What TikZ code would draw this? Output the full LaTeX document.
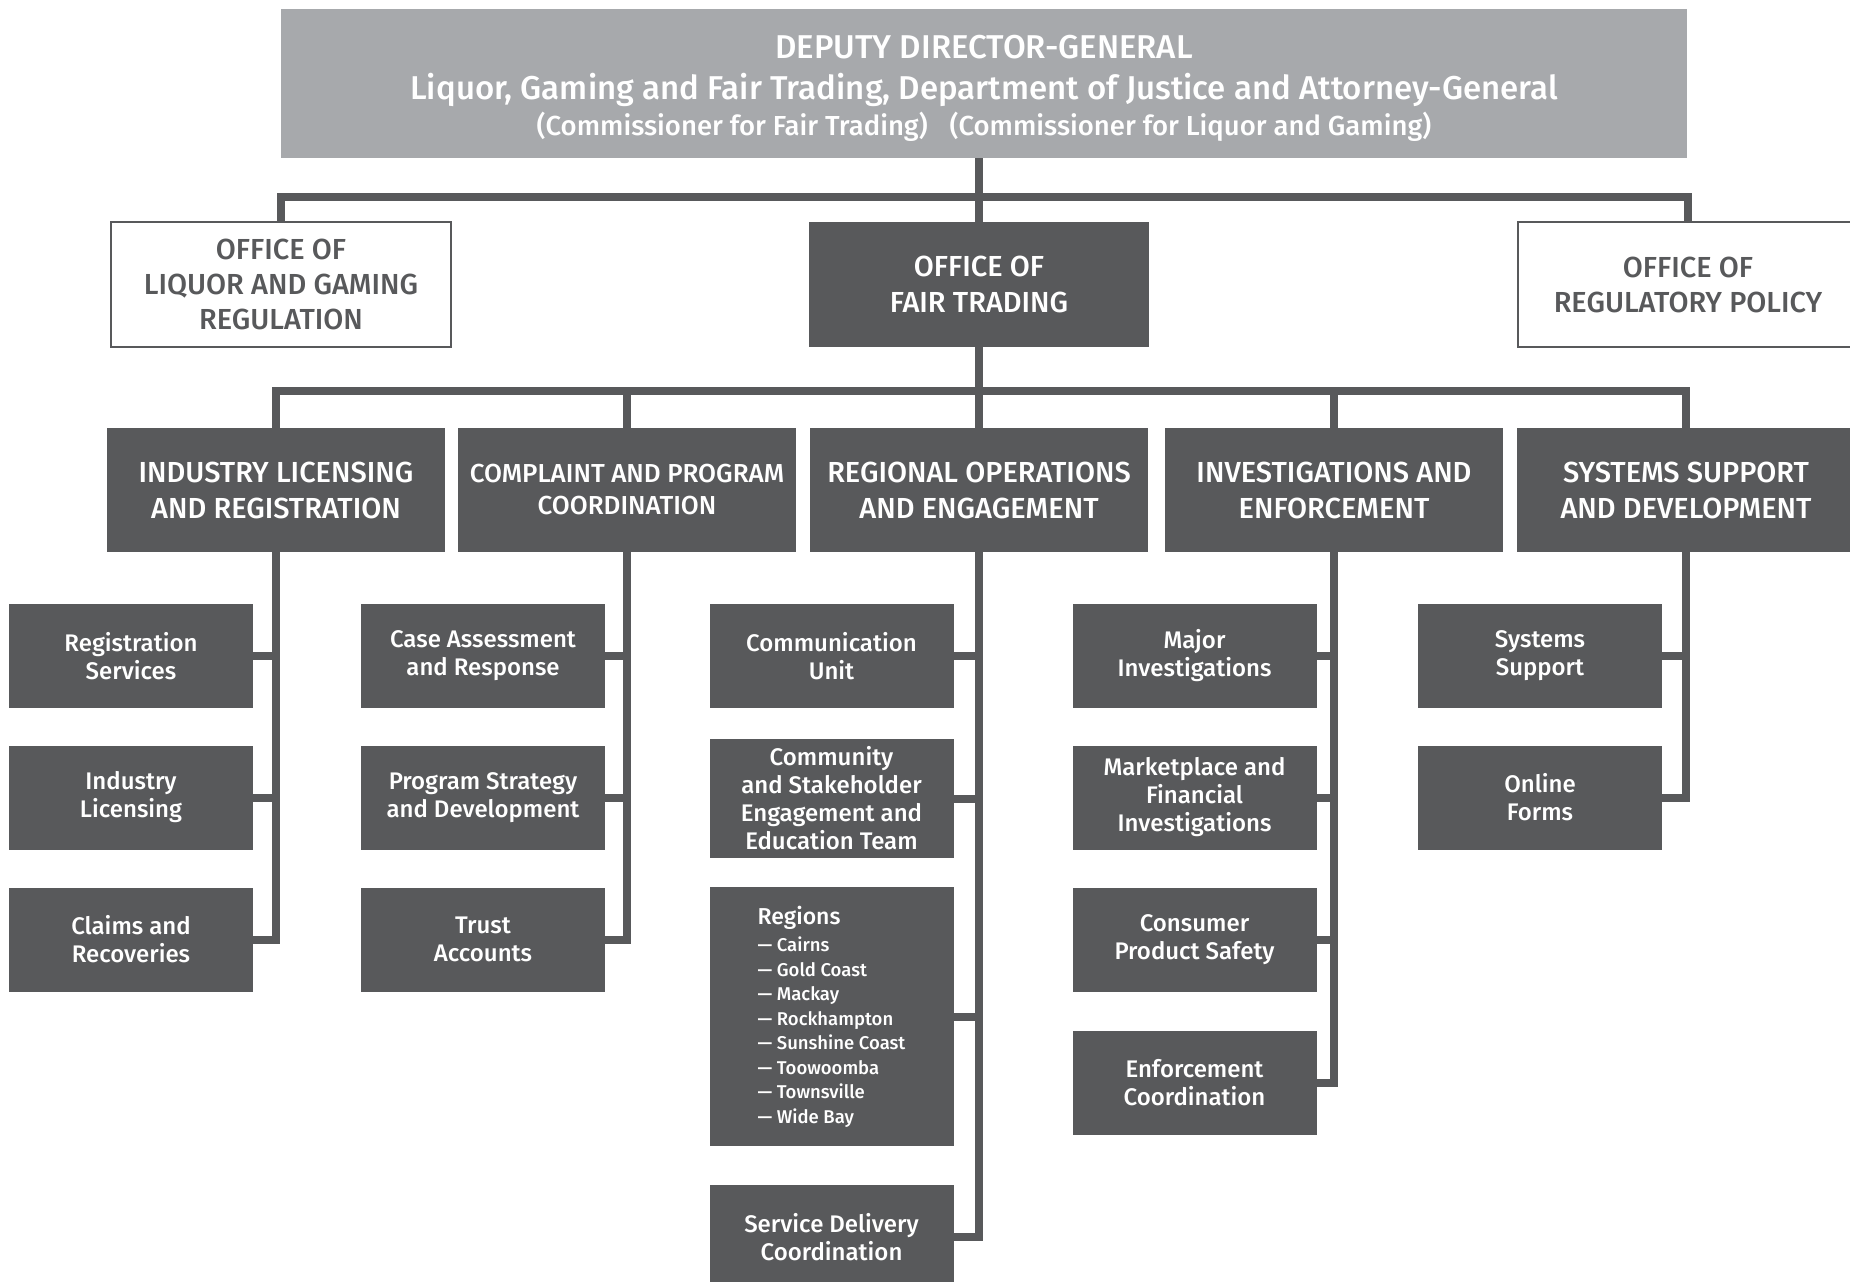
\documentclass[tikz,border=0pt]{standalone}
\usepackage{fontspec}
\setmainfont{Fira Sans Medium}
\definecolor{grisfonce}{HTML}{58595B}
\definecolor{grisclair}{HTML}{A7A9AC}
\tikzset{
  lien/.style={draw=grisfonce, line width=8pt},
  boite/.style={fill=grisfonce, text=white, align=center, inner sep=0pt},
  titre/.style={boite, minimum width=338pt, minimum height=124pt, font=\fontsize{29}{36}\selectfont},
  bureau/.style={draw=grisfonce, line width=2pt, text=grisfonce, align=center, inner sep=0pt,
    minimum width=340pt, minimum height=125pt, font=\fontsize{29}{35}\selectfont},
  unite/.style={boite, minimum width=244pt, minimum height=104pt, font=\fontsize{24}{28}\selectfont},
}
\begin{document}
\begin{tikzpicture}[x=1pt,y=-1pt]
\useasboundingbox (0,0) rectangle (1850,1282);

% Direction
\node[boite, fill=grisclair, minimum width=1406pt, minimum height=149pt, font=\fontsize{33}{41}\selectfont] (ddg) at (984,83.5)
  {\rule{0pt}{33pt}DEPUTY DIRECTOR-GENERAL\\Liquor, Gaming and Fair Trading, Department of Justice and Attorney-General\\[-5pt]
   \fontsize{27.5}{30}\selectfont (Commissioner for Fair Trading)\hspace{22pt}(Commissioner for Liquor and Gaming)};

% Bureaux
\node[bureau] (olgr) at (281,284.5) {OFFICE OF\\LIQUOR AND GAMING\\REGULATION};
\node[titre, minimum width=340pt, minimum height=125pt] (oft) at (979,284.5) {OFFICE OF\\FAIR TRADING};
\node[bureau] (orp) at (1688,284.5) {OFFICE OF\\REGULATORY POLICY};

% Directions du Fair Trading
\node[titre] (ilr) at (276,490) {INDUSTRY LICENSING\\AND REGISTRATION};
\node[titre, font=\fontsize{26}{32}\selectfont] (cpc) at (627,490) {COMPLAINT AND PROGRAM\\COORDINATION};
\node[titre] (roe) at (979,490) {REGIONAL OPERATIONS\\AND ENGAGEMENT};
\node[titre] (iae) at (1334,490) {INVESTIGATIONS AND\\ENFORCEMENT};
\node[titre] (ssd) at (1686,490) {SYSTEMS SUPPORT\\AND DEVELOPMENT};

% Unites (colonne 1)
\node[unite] (rs) at (131,656) {Registration\\Services};
\node[unite] (il) at (131,797.5) {Industry\\Licensing};
\node[unite] (cr) at (131,939.5) {Claims and\\Recoveries};

% Unites (colonne 2)
\node[unite] (car) at (483,656) {Case Assessment\\and Response};
\node[unite] (psd) at (483,797.5) {Program Strategy\\and Development};
\node[unite] (ta) at (483,939.5) {Trust\\Accounts};

% Unites (colonne 3)
\node[unite] (cu) at (831.5,656) {Communication\\Unit};
\node[unite, minimum height=119pt] (cse) at (831.5,798.5) {Community\\and Stakeholder\\Engagement and\\Education Team};
\node[unite, align=left, minimum height=259pt, font=\fontsize{18.5}{24.5}\selectfont] (reg) at (831.5,1016.5)
  {\fontsize{23}{26}\selectfont Regions\\[3pt]
   — Cairns\\— Gold Coast\\— Mackay\\— Rockhampton\\— Sunshine Coast\\— Toowoomba\\— Townsville\\— Wide Bay};
\node[unite] (sdc) at (831.5,1237) {Service Delivery\\Coordination};

% Unites (colonne 4)
\node[unite] (mi) at (1194.5,656) {Major\\Investigations};
\node[unite] (mfi) at (1194.5,797.5) {Marketplace and\\Financial\\Investigations};
\node[unite] (cps) at (1194.5,939.5) {Consumer\\Product Safety};
\node[unite] (ec) at (1194.5,1082.5) {Enforcement\\Coordination};

% Unites (colonne 5)
\node[unite] (sys) at (1540,656) {Systems\\Support};
\node[unite] (of) at (1540,797.5) {Online\\Forms};

% Liens du haut
\coordinate (barre1) at (0,197);
\coordinate (barre2) at (0,391);
\draw[lien] (ddg.south -| oft.north) -- (oft.north);
\draw[lien] (olgr.north) -- (olgr.north |- barre1) -| (orp.north);
\draw[lien] (oft.south) -- (oft.south |- barre2);
\draw[lien] (ilr.north) -- (ilr.north |- barre2) -| (ssd.north);
\foreach \n in {cpc,roe,iae}
  \draw[lien] (\n.north) -- (\n.north |- barre2);

% Liens des unites
\draw[lien] (ilr.south) |- (cr.east);
\foreach \n in {rs,il} \draw[lien] (\n.east) -- (\n.east -| ilr.south);
\draw[lien] (cpc.south) |- (ta.east);
\foreach \n in {car,psd} \draw[lien] (\n.east) -- (\n.east -| cpc.south);
\draw[lien] (roe.south) |- (sdc.east);
\foreach \n in {cu,cse,reg} \draw[lien] (\n.east) -- (\n.east -| roe.south);
\draw[lien] (iae.south) |- (ec.east);
\foreach \n in {mi,mfi,cps} \draw[lien] (\n.east) -- (\n.east -| iae.south);
\draw[lien] (ssd.south) |- (of.east);
\draw[lien] (sys.east) -- (sys.east -| ssd.south);

\end{tikzpicture}
\end{document}
